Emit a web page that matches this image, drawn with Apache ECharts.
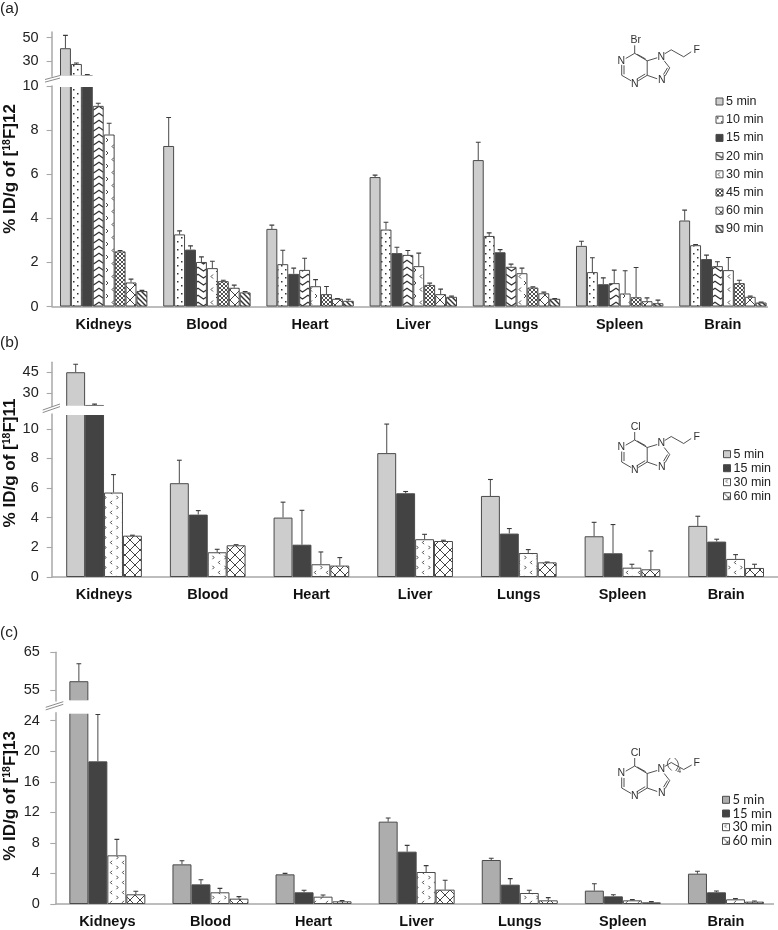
<!DOCTYPE html>
<html><head><meta charset="utf-8">
<style>html,body{margin:0;padding:0;background:#fff}#c{width:778px;height:930px}</style>
<script src="https://cdn.jsdelivr.net/npm/echarts@6/dist/echarts.min.js"></script>
</head><body><div id="c"></div>
<script>
const organs = ['Kidneys','Blood','Heart','Liver','Lungs','Spleen','Brain'];

// Panel (a) [18F]12 – bar height per organ for each time point
const timesA = ['5 min','10 min','15 min','20 min','30 min','45 min','60 min','90 min'];
const a05 = [41, 7.28, 3.52, 5.87, 6.64, 2.75, 3.9];
const a10 = [27.5, 3.27, 1.92, 3.49, 3.2, 1.56, 2.78];
const a15 = [18, 2.58, 1.48, 2.42, 2.46, 1.01, 2.15];
const a20 = [9.1, 2.02, 1.66, 2.34, 1.8, 1.06, 1.83];
const a30 = [7.8, 1.74, 0.92, 1.83, 1.51, 0.59, 1.65];
const a45 = [2.5, 1.15, 0.56, 0.98, 0.86, 0.42, 1.06];
const a60 = [1.09, 0.85, 0.35, 0.56, 0.6, 0.24, 0.44];
const a90 = [0.7, 0.64, 0.26, 0.44, 0.35, 0.15, 0.18];
// upper end of the error bars
const aTop05 = [52, 8.57, 3.69, 5.96, 7.45, 2.96, 4.37];
const aTop10 = [28.3, 3.43, 2.55, 3.82, 3.34, 2.21, 2.81];
const aTop15 = [18.5, 2.75, 1.74, 2.69, 2.58, 1.3, 2.33];
const aTop20 = [9.22, 2.25, 2.19, 2.54, 1.92, 1.65, 2.03];
const aTop30 = [8.31, 2.05, 1.22, 2.42, 1.74, 1.62, 2.22];
const aTop45 = [2.54, 1.19, 0.91, 1.06, 0.89, 1.77, 1.19];
const aTop60 = [1.24, 0.97, 0.36, 0.79, 0.65, 0.39, 0.47];
const aTop90 = [0.73, 0.68, 0.33, 0.47, 0.36, 0.29, 0.2];

// Panel (b) [18F]11
const timesB = ['5 min','15 min','30 min','60 min'];
const b05 = [45, 6.33, 4.01, 8.36, 5.47, 2.75, 3.45];
const b15 = [21.6, 4.21, 2.18, 5.65, 2.93, 1.6, 2.39];
const b30 = [5.7, 1.67, 0.86, 2.55, 1.62, 0.63, 1.22];
const b60 = [2.79, 2.14, 0.77, 2.43, 0.99, 0.52, 0.61];
const bTop05 = [50.7, 7.88, 5.05, 10.32, 6.58, 3.69, 4.1];
const bTop15 = [22.2, 4.48, 4.5, 5.77, 3.27, 3.54, 2.55];
const bTop30 = [6.91, 1.87, 1.69, 2.88, 1.85, 0.86, 1.51];
const bTop60 = [2.82, 2.18, 1.31, 2.48, 1.01, 1.76, 0.86];

// Panel (c) [18F]13
const timesC = ['5 min','15 min','30 min','60 min'];
const c05 = [57.4, 5.19, 3.88, 10.78, 5.76, 1.75, 3.97];
const c15 = [18.67, 2.57, 1.53, 6.85, 2.53, 1.0, 1.53];
const c30 = [6.37, 1.53, 0.96, 4.19, 1.44, 0.48, 0.61];
const c60 = [1.27, 0.7, 0.35, 1.88, 0.48, 0.22, 0.31];
const cTop05 = [62, 5.67, 4.01, 11.26, 5.98, 2.66, 4.28];
const cTop15 = [24.8, 3.18, 1.79, 7.68, 3.32, 1.22, 1.7];
const cTop30 = [8.46, 2.05, 1.18, 5.02, 1.79, 0.57, 0.7];
const cTop60 = [1.66, 0.96, 0.44, 3.1, 0.83, 0.31, 0.39];

// Tick labels
const aUpperTicks = [30, 50], aLowerTicks = [0, 2, 4, 6, 8, 10];
const bUpperTicks = [30, 45], bLowerTicks = [0, 2, 4, 6, 8, 10];
const cUpperTicks = [55, 65], cLowerTicks = [0, 4, 8, 12, 16, 20, 24];

/* ---------- pattern fills ---------- */
function tile(w, h, draw) {
  const cv = document.createElement('canvas'); cv.width = w; cv.height = h;
  const g = cv.getContext('2d');
  g.fillStyle = '#fff'; g.fillRect(0, 0, w, h);
  g.strokeStyle = '#333'; g.fillStyle = '#333'; g.lineWidth = 1;
  draw(g); return { image: cv, repeat: 'repeat' };
}
function seg(g, pts) { g.beginPath(); pts.forEach((p, i) => i ? g.lineTo(p[0], p[1]) : g.moveTo(p[0], p[1])); g.stroke(); }
function cross(n, lw, col) {
  return tile(n, n, g => { g.lineWidth = lw; g.strokeStyle = col;
    seg(g, [[-1, -1], [n + 1, n + 1]]); seg(g, [[-1, n + 1], [n + 1, -1]]); });
}
const solidLight = '#cdcdcd', solidMid = '#adadad', solidDark = '#434343';
const pDots = tile(8, 8, g => { g.fillRect(1, 1, 1.5, 1.5); g.fillRect(5, 5, 1.5, 1.5); });
const pZig = tile(11, 7, g => { g.lineWidth = 1.2; seg(g, [[-1, 0.5], [5.5, 5], [12, 0.5]]); });
const pMarks = tile(11, 13, g => { g.lineWidth = 0.9;
  seg(g, [[4, 1.5], [2, 3.5], [4, 5.5]]); seg(g, [[7, 8], [9, 10], [7, 12]]); });
const pFine = cross(4, 0.9, '#3c3c3c');
const pBig = cross(10, 0.9, '#2e2e2e');
const pStripe = tile(5, 5, g => { g.lineWidth = 1.5; g.strokeStyle = '#333';
  seg(g, [[-1, -1], [6, 6]]); seg(g, [[-1, 4], [1, 6]]); seg(g, [[4, -1], [6, 1]]); });
const pMarksB = tile(12, 10, g => { g.lineWidth = 0.9;
  seg(g, [[4, 0.8], [2.4, 2.5], [4, 4.2]]); seg(g, [[8.5, 5.8], [10, 7.5], [8.5, 9.2]]); });

/* ---------- panels ---------- */
const panels = [
 { id:'a', times:timesA, vals:[a05,a10,a15,a20,a30,a45,a60,a90],
   tops:[aTop05,aTop10,aTop15,aTop20,aTop30,aTop45,aTop60,aTop90],
   fills:[solidLight,pDots,solidDark,pZig,pMarks,pFine,pBig,pStripe],
   left:52.1, width:722.4, gap:0.153, labelMargin:13.5, xEnd:768,
   up:{top:32, bottom:76.2, min:17, max:54.9, ticks:aUpperTicks},
   lo:{top:86, bottom:306.5, min:0, max:10, ticks:aLowerTicks},
   band:[75.4, 87], slash:[45,79.5,60,75.5],
   legend:{left:715.5, top:95, gap:5.2, font:'Liberation Sans', size:12.5},
   title:{text:'% ID/g of [{s|18}F]12', y:169} , tag:{t:'(a)', y:9}},
 { id:'b', times:timesB, vals:[b05,b15,b30,b60], tops:[bTop05,bTop15,bTop30,bTop60],
   fills:[solidLight,solidDark,pMarksB,pBig],
   left:52.2, width:732.2, gap:0.27, labelMargin:13.5, xEnd:778,
   up:{top:362.3, bottom:406.5, min:20.5, max:52.1, ticks:bUpperTicks},
   lo:{top:414, bottom:577, min:0, max:11, ticks:bLowerTicks},
   band:[405.7, 415], slash:[42.7,410,60,404],
   legend:{left:723, top:447.7, gap:1, font:'Liberation Sans', size:12.5},
   title:{text:'% ID/g of [{s|18}F]11', y:463}, tag:{t:'(b)', y:343}},
 { id:'c', times:timesC, vals:[c05,c15,c30,c60], tops:[cTop05,cTop15,cTop30,cTop60],
   fills:[solidMid,solidDark,pMarksB,pBig],
   left:55.8, width:721.7, gap:0.263, labelMargin:16, xEnd:774,
   up:{top:652.3, bottom:701, min:52.2, max:65, ticks:cUpperTicks},
   lo:{top:712.7, bottom:904, min:0, max:25.04, ticks:cLowerTicks},
   band:[700.2, 713.7], slash:[45.7,707.3,63.3,701.7],
   legend:{left:722, top:793.3, gap:0.7, font:'Lato', size:13},
   title:{text:'% ID/g of [{s|18}F]13', y:796}, tag:{t:'(c)', y:633}}
];

const AX = '#a8a8a8', TXT = '#222', FONT = 'Liberation Sans';
const grids = [], xAxes = [], yAxes = [], series = [], legends = [], gfx = [];

function errSeries(p, g, gIdx) {
  const data = [];
  p.vals.forEach((arr, k) => arr.forEach((v, c) => {
    if (v >= g.min && v <= g.max) data.push([c, k, v, p.tops[k][c]]);
  }));
  const n = p.vals.length, gap = p.gap;
  return {
    type:'custom', name:p.id+'-err', xAxisIndex:gIdx, yAxisIndex:gIdx, z:5, silent:true, clip:true,
    encode:{x:0, y:3}, data,
    renderItem(params, api) {
      const w = api.size([1, 0])[0] * (1 - gap) / n;
      const dx = (api.value(1) - (n - 1) / 2) * w;
      const a = api.coord([api.value(0), api.value(2)]);
      const b = api.coord([api.value(0), api.value(3)]);
      const x = a[0] + dx;
      return { type:'group', children:[
        { type:'line', shape:{x1:x, y1:a[1], x2:x, y2:b[1]}, style:{stroke:'#5a5a5a', lineWidth:1.1} },
        { type:'line', shape:{x1:x-2.4, y1:b[1], x2:x+2.4, y2:b[1]}, style:{stroke:'#3a3a3a', lineWidth:1.1} }
      ]};
    }
  };
}

function line(x1, y1, x2, y2, col, lw) {
  return { type:'line', z:100, shape:{x1, y1, x2, y2}, style:{stroke:col, lineWidth:lw} };
}
function molecule(ox, oy, hal, long) {
  const L = (a, b, c, d) => line(ox+a, oy+b, ox+c, oy+d, '#333', 0.85);
  const T = (t, x, y, size) => ({ type:'text', z:100, style:{ text:t, x:ox+x, y:oy+y, fill:'#333',
    font:(size||10.5)+'px "Liberation Sans"', align:'center', verticalAlign:'middle' } });
  const out = [
    L(0,0,0,-8), L(0,0,-9,5.2), L(-13,11.5,-13,22), L(-13,22,-3.5,27.5), L(3.5,27.5,12.5,22),
    L(12.5,22,12.5,7.5), L(12.5,7.5,0,0), L(12.5,7.5,22.5,4.5), L(12.5,22,22.5,25.5),
    L(29.5,7.5,35,14.5), L(35,14.5,30.5,22.5),
    L(-10.7,12,-10.7,21), L(2,25.8,10.5,20.7), L(2.5,1,11,5.7), L(32.8,14.5,28.8,21.2),
    T(hal, 1, -13), T('N', -13.5, 7.5), T('N', 0, 30.5), T('N', 26.5, 3.5), T('N', 27, 27)
  ];
  if (!long) {
    out.push(L(30,0.5,36.5,-3.5), L(36.5,-3.5,49,3.5), L(49,3.5,56.5,-1.5), T('F', 62, -3));
  } else {
    out.push(L(30,0.5,36.5,-3.5), L(36.5,-3.5,49,3.5), L(49,3.5,57,-1), T('F', 62, -3), T('4', 44.5, 5.5, 7));
    out.push({ type:'bezierCurve', z:100, shape:{x1:ox+35.5,y1:oy-8,x2:ox+37,y2:oy+4.5,cpx1:ox+29,cpy1:oy-2}, style:{stroke:'#333',lineWidth:0.8,fill:'none'} });
    out.push({ type:'bezierCurve', z:100, shape:{x1:ox+40,y1:oy-8,x2:ox+41,y2:oy+5,cpx1:ox+47,cpy1:oy-2}, style:{stroke:'#333',lineWidth:0.8,fill:'none'} });
  }
  return out;
}

panels.forEach(p => {
  [p.up, p.lo].forEach((g, j) => {
    const gIdx = grids.length, isLo = j === 1;
    grids.push({ left:p.left, width:p.width, top:g.top, height:g.bottom-g.top, containLabel:false });
    xAxes.push({ type:'category', gridIndex:gIdx, data:organs, show:isLo,
      axisLine:{ lineStyle:{ color:AX, width:1.5 }, onZero:false }, axisTick:{ show:false },
      axisLabel:{ margin:10.8, interval:0, fontFamily:FONT, fontWeight:'bold', fontSize:14.5, color:'#111' } });
    yAxes.push({ type:'value', gridIndex:gIdx, min:g.min, max:g.max,
      splitLine:{ show:false },
      axisLine:{ show:true, onZero:false, lineStyle:{ color:AX, width:1.5 } },
      axisTick:{ show:true, length:5.5, customValues:g.ticks, lineStyle:{ color:AX, width:1.1 } },
      axisLabel:{ customValues:g.ticks, margin:p.labelMargin, fontFamily:FONT, fontSize:14.5, color:TXT } });
    p.vals.forEach((arr, k) => {
      series.push({ type:'bar', name:p.id+'|'+p.times[k], xAxisIndex:gIdx, yAxisIndex:gIdx,
        barGap:0, barCategoryGap:(p.gap*100)+'%', silent:true, z:2, animation:false,
        itemStyle:{ color:p.fills[k], borderColor:'#4a4a4a', borderWidth:1 },
        data:arr.map(v => (v < g.min ? null : v)) });
    });
    series.push(errSeries(p, g, gIdx));
  });
  legends.push({ show:true, orient:'vertical', left:p.legend.left, top:p.legend.top, padding:0,
    itemWidth:7, itemHeight:7, itemGap:p.legend.gap, icon:'rect', selectedMode:false,
    data:p.times.map(t => p.id+'|'+t),
    formatter:n => n.split('|')[1],
    itemStyle:{ borderColor:'#4a4a4a', borderWidth:1 },
    textStyle:{ fontFamily:p.legend.font, fontSize:p.legend.size, color:TXT, padding:[0,0,0,-2] } });
  // white gap across the broken bars, and the break marks
  gfx.push({ type:'rect', z:90, shape:{ x:p.left+1.5, y:p.band[0], width:780-p.left, height:p.band[1]-p.band[0] }, style:{ fill:'#fff' } });
  const s = p.slash;
  gfx.push(line(s[0], s[1], s[2], s[3], '#8c8c8c', 1), line(s[0], s[1]+2.6, s[2], s[3]+2.6, '#8c8c8c', 1));
  gfx.push({ type:'rect', z:90, shape:{ x:p.xEnd, y:p.lo.bottom-2, width:12, height:4 }, style:{ fill:'#fff' } });
  gfx.push({ type:'text', z:100, rotation:Math.PI/2, x:10, y:p.title.y,
    style:{ text:p.title.text, fill:'#111', font:'bold 17px "Liberation Sans"', align:'center', verticalAlign:'middle',
      rich:{ s:{ fontFamily:FONT, fontWeight:'bold', fontSize:10.5, fill:'#111', verticalAlign:'top', lineHeight:10 } } } });
  gfx.push({ type:'text', z:100, x:0, y:p.tag.y, style:{ text:p.tag.t, fill:'#222', font:'15.5px "Liberation Sans"', align:'left', verticalAlign:'middle' } });
});
gfx.push(...molecule(634.7, 53.3, 'Br', false), ...molecule(634.7, 440, 'Cl', false), ...molecule(634.7, 766, 'Cl', true));

const chart = echarts.init(document.getElementById('c'), null, { renderer:'canvas' });
chart.setOption({
  animation:false, backgroundColor:'#fff',
  grid:grids, xAxis:xAxes, yAxis:yAxes, series, legend:legends,
  graphic:{ z:100, elements:gfx }
});
</script></body></html>
